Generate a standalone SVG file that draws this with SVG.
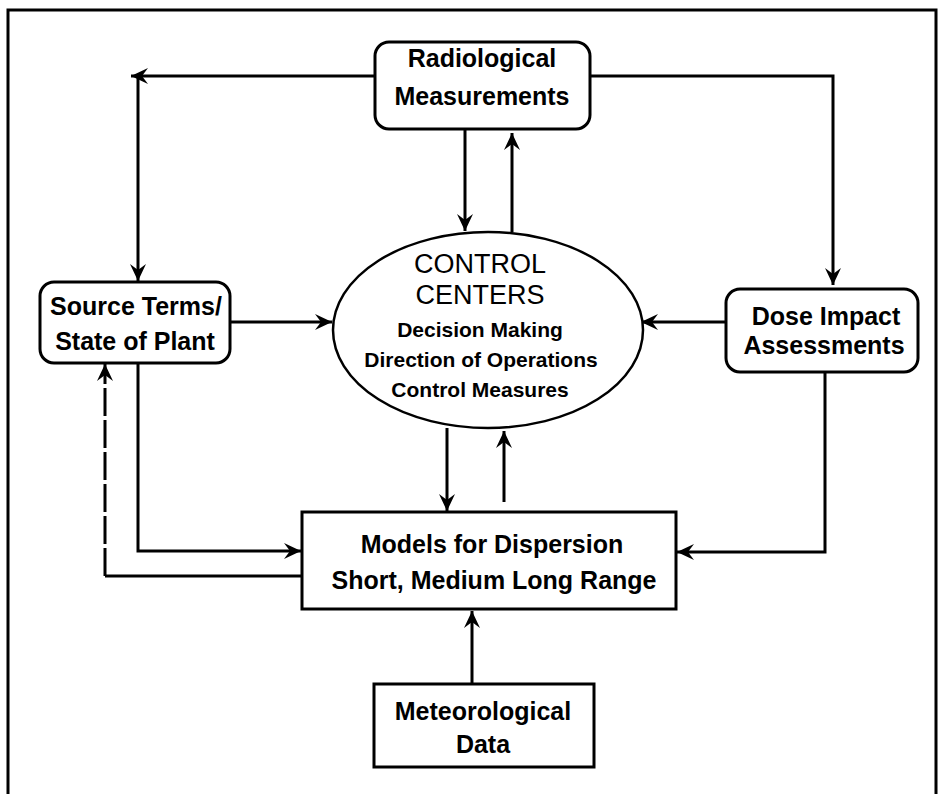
<svg xmlns="http://www.w3.org/2000/svg" width="942" height="794" viewBox="0 0 942 794">
<style>
  .box { fill: #fff; stroke: #000; stroke-width: 3; }
  .lbl { font-family: "Liberation Sans", Arial, sans-serif; font-weight: bold; font-size: 25px; fill: #000; text-anchor: middle; }
  .big { font-family: "Liberation Sans", Arial, sans-serif; font-weight: normal; font-size: 27px; fill: #000; text-anchor: middle; }
  .sub { font-family: "Liberation Sans", Arial, sans-serif; font-weight: bold; font-size: 21px; fill: #000; text-anchor: middle; }
  .ln { fill: none; stroke: #000; stroke-width: 3; }
  .arr { fill: none; stroke: #000; stroke-width: 3; marker-end: url(#ah); }
  .dash { stroke-dasharray: 28 4; }
</style>
<defs>
  <marker id="ah" markerUnits="userSpaceOnUse" markerWidth="20" markerHeight="18" viewBox="-18 -9 20 18" refX="0" refY="0" orient="auto">
    <path d="M0,0 L-17,-8 L-11,0 L-17,8 Z" fill="#000"/>
  </marker>
</defs>
<rect width="942" height="794" fill="#fff"/>
<g id="frame">
  <path class="ln" d="M8,794 V10 H936 V794"/>
</g>
<g id="connectors">
  <path class="arr" d="M375,76 H131"/>
  <path class="arr" d="M138,76 V281"/>
  <path class="arr" d="M590,76 H833 V285"/>
  <path class="arr" d="M465,130 V231"/>
  <path class="arr" d="M512,232 V133"/>
  <path class="arr" d="M230,322 H332"/>
  <path class="arr" d="M726,322 H641"/>
  <path class="arr" d="M447,428 V511"/>
  <path class="arr" d="M504,502 V431"/>
  <path class="arr" d="M138,363 V551 H301"/>
  <path class="ln" d="M302,576 H105"/>
  <path class="arr dash" d="M105,576 V364"/>
  <path class="arr" d="M825,372 V552 H677"/>
  <path class="arr" d="M472,684 V611"/>
</g>
<g id="radiological">
  <rect class="box" x="375" y="42" width="215" height="87" rx="14"/>
  <text class="lbl" x="482" y="67">Radiological</text>
  <text class="lbl" x="482" y="105">Measurements</text>
</g>
<g id="source">
  <rect class="box" x="40" y="282" width="190" height="81" rx="14"/>
  <text class="lbl" x="136" y="315">Source Terms/</text>
  <text class="lbl" x="135" y="350">State of Plant</text>
</g>
<g id="dose">
  <rect class="box" x="726" y="289" width="192" height="83" rx="14"/>
  <text class="lbl" x="826" y="325">Dose Impact</text>
  <text class="lbl" x="824" y="354">Assessments</text>
</g>
<g id="control">
  <ellipse class="box" cx="488" cy="330" rx="155" ry="98" style="stroke-width:2.5"/>
  <text class="big" x="480" y="273">CONTROL</text>
  <text class="big" x="480" y="304">CENTERS</text>
  <text class="sub" x="480" y="337">Decision Making</text>
  <text class="sub" x="481" y="367">Direction of Operations</text>
  <text class="sub" x="480" y="397">Control Measures</text>
</g>
<g id="models">
  <rect class="box" x="302" y="512" width="374" height="97"/>
  <text class="lbl" x="492" y="553">Models for Dispersion</text>
  <text class="lbl" x="494" y="589">Short, Medium Long Range</text>
</g>
<g id="meteo">
  <rect class="box" x="374" y="684" width="220" height="83"/>
  <text class="lbl" x="483" y="720">Meteorological</text>
  <text class="lbl" x="483" y="753">Data</text>
</g>
</svg>
